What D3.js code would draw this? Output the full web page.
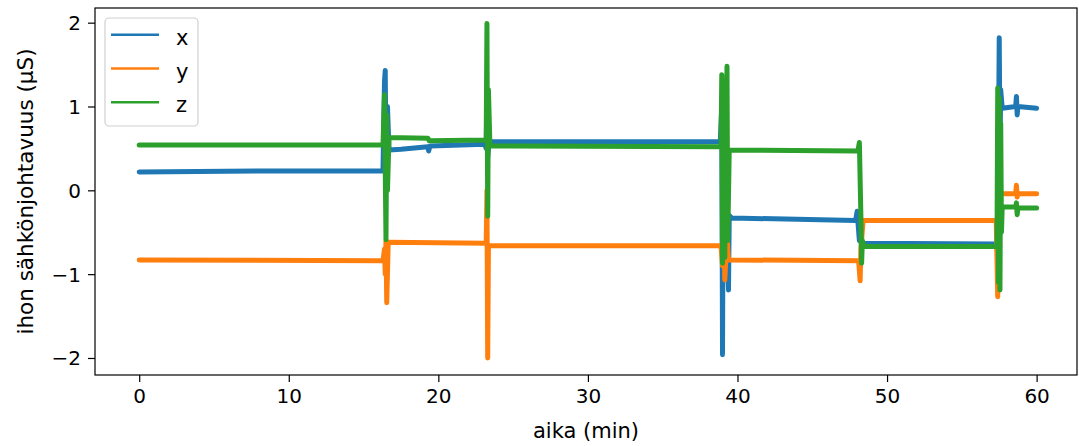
<!DOCTYPE html>
<html>
<head>
<meta charset="utf-8">
<script src="https://cdn.jsdelivr.net/npm/d3@7"></script>
<style>
  body { margin: 0; background: #fff; }
  svg { display: block; font-family: "DejaVu Sans", sans-serif; }
</style>
</head>
<body>
<svg width="1079" height="446"></svg>
<script>
// series data: time (min) and value (µS)
const tX = [0, 8, 16.2, 16.3, 16.4, 16.45, 16.5, 16.6, 16.7, 17.5, 19.3, 19.35, 19.45, 23.1, 23.2, 23.25, 23.3, 23.4, 30, 38.85, 38.95, 39.0, 39.05, 39.2, 39.4, 39.45, 39.6, 47.9, 48.0, 48.15, 48.4, 57.3, 57.4, 57.5, 57.55, 57.6, 57.7, 58.6, 58.65, 58.7, 58.75, 60];
const vX = [0.22, 0.23, 0.23, 0.25, 1.3, 1.43, 0.3, 1.0, 0.48, 0.49, 0.52, 0.47, 0.53, 0.55, 0.5, 1.16, 0.4, 0.58, 0.58, 0.58, 1.0, -1.96, 0.6, 0.0, -1.19, -0.3, -0.33, -0.36, -0.25, -0.6, -0.63, -0.64, -0.75, 1.82, 0.5, 1.2, 0.98, 1.0, 1.12, 0.9, 1.0, 0.98];

const tY = [0, 16.3, 16.4, 16.45, 16.5, 16.55, 16.65, 23.2, 23.25, 23.3, 23.35, 38.9, 39.0, 39.1, 39.15, 39.3, 39.4, 48.1, 48.2, 48.25, 48.4, 57.3, 57.4, 57.45, 57.6, 58.6, 58.65, 58.7, 58.75, 60];
const vY = [-0.83, -0.84, -0.7, -1.0, -0.6, -1.34, -0.62, -0.63, 0.0, -2.0, -0.66, -0.66, -0.9, -0.17, -1.07, -0.55, -0.83, -0.84, -1.08, -0.7, -0.36, -0.36, -1.27, 0.12, -0.04, -0.04, 0.06, -0.08, -0.04, -0.04];

const tZ = [0, 16.3, 16.4, 16.5, 16.55, 16.6, 16.7, 19.3, 19.4, 23.2, 23.25, 23.3, 23.35, 23.45, 38.9, 38.95, 39.0, 39.1, 39.15, 39.25, 39.3, 39.35, 39.45, 48.05, 48.15, 48.25, 48.3, 48.35, 48.45, 57.35, 57.4, 57.45, 57.5, 57.55, 57.6, 57.65, 57.7, 58.6, 58.65, 58.7, 58.75, 60];
const vZ = [0.54, 0.54, 1.14, -0.59, 0.9, 0.0, 0.63, 0.62, 0.59, 0.6, 1.99, -0.31, 1.2, 0.53, 0.52, 1.38, -0.87, 1.0, -0.8, 0.9, 1.48, -0.6, 0.48, 0.47, 0.57, -0.3, -0.87, -0.6, -0.67, -0.67, 1.22, -1.1, 1.1, -1.19, 0.8, -0.5, -0.2, -0.2, -0.15, -0.29, -0.21, -0.21];

const seriesNames = ["x", "y", "z"];
const colors = ["#1f77b4", "#ff7f0e", "#2ca02c"];
const xTicks = [0, 10, 20, 30, 40, 50, 60];
const yTicks = [-2, -1, 0, 1, 2];

const svg = d3.select("svg");
const mLeft = 95, mRight = 1077, mTop = 8, mBottom = 375;

const x = d3.scaleLinear().domain([-2.955, 62.70]).range([mLeft, mRight]);
const y = d3.scaleLinear().domain([-2.203, 2.175]).range([mBottom, mTop]);

svg.append("defs").append("clipPath").attr("id", "plot")
   .append("rect")
   .attr("x", mLeft).attr("y", mTop)
   .attr("width", mRight - mLeft).attr("height", mBottom - mTop);

// lines
const line = d3.line().x(d => x(d[0])).y(d => y(d[1]));
const series = [d3.zip(tX, vX), d3.zip(tY, vY), d3.zip(tZ, vZ)];

svg.append("g").attr("clip-path", "url(#plot)")
   .selectAll("path")
   .data(series)
   .join("path")
   .attr("d", line)
   .attr("fill", "none")
   .attr("stroke", (d, i) => colors[i])
   .attr("stroke-width", 5)
   .attr("stroke-linejoin", "round")
   .attr("stroke-linecap", "round");

// axes
const xAxis = svg.append("g")
   .attr("transform", `translate(0,${mBottom})`)
   .call(d3.axisBottom(x).tickValues(xTicks).tickSize(7).tickPadding(7).tickFormat(d3.format("d")));
const yAxis = svg.append("g")
   .attr("transform", `translate(${mLeft},0)`)
   .call(d3.axisLeft(y).tickValues(yTicks).tickSize(7).tickPadding(7).tickFormat(d => d < 0 ? "\u2212" + Math.abs(d) : d));

[xAxis, yAxis].forEach(g => {
  g.select(".domain").remove();
  g.selectAll(".tick line").attr("stroke", "#000").attr("stroke-width", 1.2);
  g.selectAll(".tick text")
   .attr("font-size", "20px")
   .attr("font-family", "DejaVu Sans, sans-serif")
   .attr("fill", "#000");
});
yAxis.selectAll(".tick text").attr("dy", "0.35em");

// frame
svg.append("rect")
   .attr("x", mLeft).attr("y", mTop)
   .attr("width", mRight - mLeft).attr("height", mBottom - mTop)
   .attr("fill", "none")
   .attr("stroke", "#000")
   .attr("stroke-width", 1.2);

// axis labels
svg.append("text")
   .attr("x", (mLeft + mRight) / 2)
   .attr("y", 438)
   .attr("text-anchor", "middle")
   .attr("font-size", "21px")
   .text("aika (min)");

svg.append("text")
   .attr("transform", `translate(33,${(mTop + mBottom) / 2}) rotate(-90)`)
   .attr("text-anchor", "middle")
   .attr("font-size", "21.5px")
   .text("ihon sähkönjohtavuus (µS)");

// legend
const legend = svg.append("g");
legend.append("rect")
   .attr("x", 105).attr("y", 18)
   .attr("width", 93).attr("height", 108)
   .attr("rx", 4)
   .attr("fill", "#fff")
   .attr("fill-opacity", 0.8)
   .attr("stroke", "#d0d0d0")
   .attr("stroke-width", 1.2);

const item = legend.selectAll("g.item")
   .data(seriesNames)
   .join("g")
   .attr("class", "item")
   .attr("transform", (d, i) => `translate(0,${34.7 + i * 33.8})`);

item.append("line")
   .attr("x1", 111).attr("x2", 159)
   .attr("stroke", (d, i) => colors[i])
   .attr("stroke-width", 2.5);

item.append("text")
   .attr("x", 176)
   .attr("y", 10)
   .attr("font-size", "21px")
   .text(d => d);
</script>
</body>
</html>
